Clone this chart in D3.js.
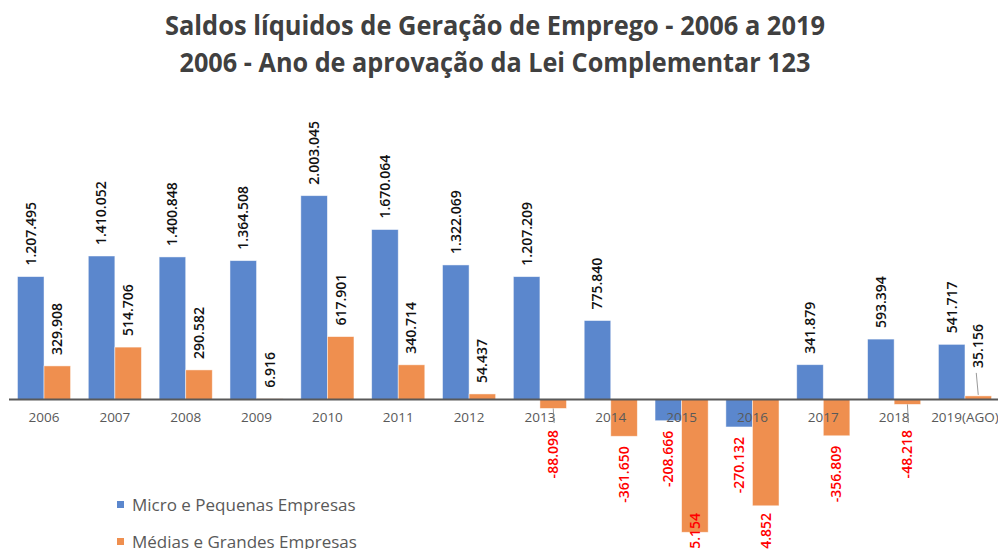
<!DOCTYPE html>
<meta charset="utf-8">
<style>
  body { margin: 0; background: #fff; }
  text { font-family: "Open Sans", sans-serif; }
</style>
<svg id="chart" width="998" height="549"></svg>
<script src="https://cdn.jsdelivr.net/npm/d3@7"></script>
<script>

var years = ["2006", "2007", "2008", "2009", "2010", "2011", "2012",
             "2013", "2014", "2015", "2016", "2017", "2018", "2019(AGO)"];

var micro = [1207495, 1410052, 1400848, 1364508, 2003045, 1670064, 1322069,
             1207209, 775840, -208666, -270132, 341879, 593394, 541717];

var grandes = [329908, 514706, 290582, 6916, 617901, 340714, 54437,
               -88098, -361650, -1305154, -1044852, -356809, -48218, 35156];

var seriesNames = ["Micro e Pequenas Empresas", "Médias e Grandes Empresas"];
var colors = ["#5b87cd", "#ef8f4f"];

var svg = d3.select("#chart"),
    width = +svg.attr("width"),
    height = +svg.attr("height");

var fmt = d3.formatLocale({ decimal: ",", thousands: ".", grouping: [3], currency: ["", ""], minus: "-" }).format(",d");

var rows = years.map(function(y, i) {
  return { year: y, values: [micro[i], grandes[i]] };
});

var x = d3.scaleBand()
    .domain(years)
    .range([8.6, 1000.4])
    .paddingInner(0.25)
    .paddingOuter(0.125);

var xs = d3.scaleBand()
    .domain([0, 1])
    .range([0, x.bandwidth()]);

var y = d3.scaleLinear()
    .domain([-1500000, 2100000])
    .range([552.1, 185.8]);

// title
var title = svg.append("g")
    .attr("fill", "#404040")
    .attr("font-weight", 700)
    .attr("text-anchor", "middle");
title.append("text")
    .attr("x", 495).attr("y", 35)
    .attr("font-size", 26)
    .attr("textLength", 660).attr("lengthAdjust", "spacingAndGlyphs")
    .text("Saldos líquidos de Geração de Emprego - 2006 a 2019");
title.append("text")
    .attr("x", 495).attr("y", 72)
    .attr("font-size", 26)
    .attr("textLength", 631).attr("lengthAdjust", "spacingAndGlyphs")
    .text("2006 - Ano de aprovação da Lei Complementar 123");

// bars
var group = svg.append("g").selectAll("g")
  .data(rows)
  .enter().append("g")
    .attr("transform", function(d) { return "translate(" + x(d.year) + ",0)"; });

group.selectAll("rect")
  .data(function(d) { return d.values.map(function(v, k) { return { k: k, v: v, year: d.year }; }); })
  .enter().append("rect")
    .attr("x", function(d) { return xs(d.k); })
    .attr("width", xs.bandwidth())
    .attr("y", function(d) { return y(Math.max(0, d.v)); })
    .attr("height", function(d) { return Math.abs(y(d.v) - y(0)); })
    .attr("fill", function(d) { return colors[d.k]; })
    .attr("stroke", "#fff")
    .attr("stroke-opacity", 0.6)
    .attr("stroke-width", 0.8);

// zero line
svg.append("line")
    .attr("x1", 9).attr("x2", 998)
    .attr("y1", y(0)).attr("y2", y(0))
    .attr("stroke", "#595959")
    .attr("stroke-width", 2);

// category labels
svg.append("g")
    .attr("font-size", 13.5)
    .attr("fill", "#595959")
    .attr("text-anchor", "middle")
  .selectAll("text")
  .data(years)
  .enter().append("text")
    .attr("x", function(d) { return x(d) + x.bandwidth() / 2; })
    .attr("y", y(0) + 23)
    .text(function(d) { return d; });

// data labels
var gap = 11,
    belowAxis = 430,   // negative labels start below the category labels
    bottomLimit = 513; // labels can't run past the chart area
var lift = { "2019(AGO)": 17 };  // hand-moved label for the small 2019 bar

var labels = svg.append("g")
    .attr("font-size", 14)
    .attr("font-weight", 600);

rows.forEach(function(d) {
  d.values.forEach(function(v, k) {
    var cx = x(d.year) + xs(k) + xs.bandwidth() / 2;
    var end = y(v);
    if (v >= 0) {
      var yb = end - gap - (k === 1 && lift[d.year] ? lift[d.year] : 0);
      if (yb < end - gap - 2) {
        labels.append("line")
            .attr("x1", cx).attr("y1", end - 1)
            .attr("x2", cx - 2).attr("y2", yb + 5)
            .attr("stroke", "#7f7f7f").attr("stroke-width", 0.8);
      }
      labels.append("text")
          .attr("transform", "translate(" + cx + "," + yb + ") rotate(-90)")
          .attr("dy", "0.35em")
          .attr("text-anchor", "start")
          .attr("fill", "#111")
          .text(fmt(v));
    } else {
      var yt = Math.min(Math.max(end + gap - 1, belowAxis), bottomLimit);
      if (end + gap < belowAxis - 5) {
        labels.append("line")
            .attr("x1", cx).attr("y1", end)
            .attr("x2", cx + 1).attr("y2", belowAxis - 7)
            .attr("stroke", "#7f7f7f").attr("stroke-width", 0.8);
      }
      labels.append("text")
          .attr("transform", "translate(" + cx + "," + yt + ") rotate(-90)")
          .attr("dy", "0.35em")
          .attr("text-anchor", "end")
          .attr("fill", "#ff0000")
          .text(fmt(v));
    }
  });
});

// legend
var legend = svg.append("g")
    .attr("font-size", 17)
    .attr("fill", "#595959")
  .selectAll("g")
  .data(seriesNames)
  .enter().append("g")
    .attr("transform", function(d, i) { return "translate(117," + (505 + i * 37) + ")"; });

legend.append("rect")
    .attr("x", 0).attr("y", -4)
    .attr("width", 7).attr("height", 7)
    .attr("fill", function(d, i) { return colors[i]; });

legend.append("text")
    .attr("x", 15)
    .attr("dy", "0.35em")
    .text(function(d) { return d; });

</script>
